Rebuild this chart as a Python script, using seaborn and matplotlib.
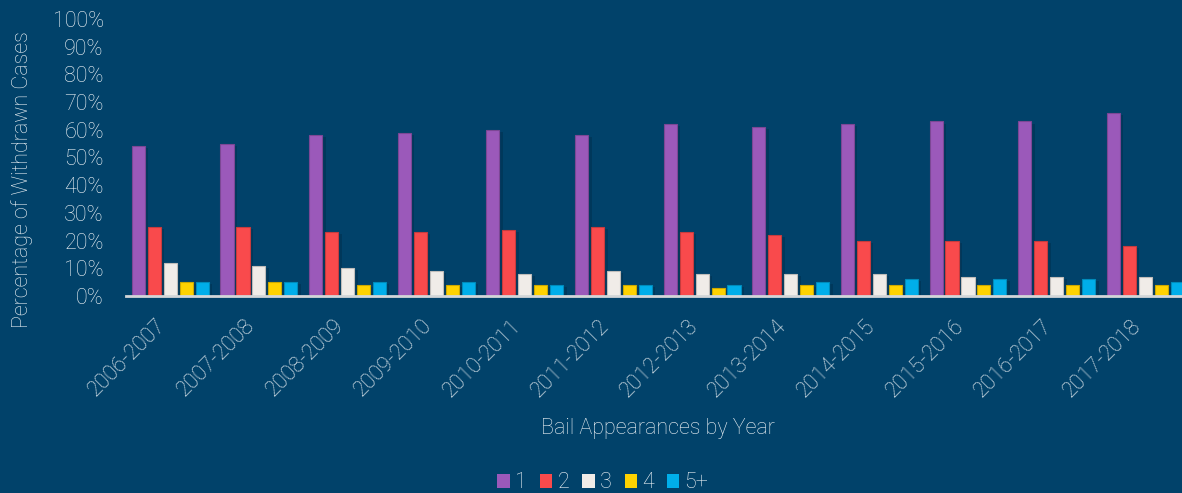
import matplotlib
matplotlib.use("Agg")
import matplotlib.pyplot as plt
from matplotlib import patheffects as pe
import seaborn as sns
import pandas as pd

years = ["2006-2007", "2007-2008", "2008-2009", "2009-2010", "2010-2011", "2011-2012",
         "2012-2013", "2013-2014", "2014-2015", "2015-2016", "2016-2017", "2017-2018"]
series_names = ["1", "2", "3", "4", "5+"]
s1 = [54, 55, 58, 59, 60, 58, 62, 61, 62, 63, 63, 66]
s2 = [25, 25, 23, 23, 24, 25, 23, 22, 20, 20, 20, 18]
s3 = [12, 11, 10, 9, 8, 9, 8, 8, 8, 7, 7, 7]
s4 = [5, 5, 4, 4, 4, 4, 3, 4, 4, 4, 4, 4]
s5 = [5, 5, 5, 5, 4, 4, 4, 5, 6, 6, 6, 5]
yticks = [0, 10, 20, 30, 40, 50, 60, 70, 80, 90, 100]

colors = ["#9B59BA", "#F94A4C", "#F0ECE8", "#FFD200", "#00AEEA"]
bg = "#01426A"
txt = "#F0F4F7"

rows = []
for name, vals in zip(series_names, [s1, s2, s3, s4, s5]):
    for y, v in zip(years, vals):
        rows.append({"Year": y, "Appearances": name, "Value": v})
df = pd.DataFrame(rows)

plt.rcParams["font.family"] = ["Roboto", "DejaVu Sans"]
plt.rcParams["font.weight"] = "light"
plt.rcParams["axes.labelweight"] = "light"

fig = plt.figure(figsize=(11.82, 4.93), dpi=100, facecolor=bg)
ax = fig.add_axes([0.1066, 0.3996, 0.8998, 0.5619])
ax.set_facecolor(bg)

sns.barplot(data=df, x="Year", y="Value", hue="Appearances", hue_order=series_names,
            order=years, palette=colors, width=0.9, gap=0.18, saturation=1,
            errorbar=None, ax=ax, linewidth=0.8)

for p in ax.patches:
    fc = p.get_facecolor()
    dark = tuple(c * 0.8 for c in fc[:3]) + (1,)
    p.set_edgecolor(dark)
    p.set_path_effects([pe.SimplePatchShadow(offset=(2.5, -1.5), shadow_rgbFace="#00263F", alpha=0.35), pe.Normal()])

ax.set_xlim(-0.5, len(years) - 0.5)
ax.set_ylim(0, 100)
ax.set_yticks(yticks)
ax.set_yticklabels([f"{v}%" for v in yticks])
ax.tick_params(axis="y", length=0, pad=16, labelsize=15.5, labelcolor=txt)
ax.tick_params(axis="x", length=0, pad=14, labelsize=15.5, labelcolor=txt)
plt.setp(ax.get_xticklabels(), rotation=45, ha="right", rotation_mode="default")

for s in ["top", "right", "left"]:
    ax.spines[s].set_visible(False)
ax.spines["bottom"].set_color("#D3D6D8")
ax.spines["bottom"].set_linewidth(2)
ax.grid(False)

ax.set_ylabel("Percentage of Withdrawn Cases", fontsize=15.5, color=txt, fontweight="light")
ax.yaxis.set_label_coords(-0.087, 0.422)
ax.set_xlabel("Bail Appearances by Year", fontsize=15.5, color=txt, labelpad=12, fontweight="light")

handles, labels = ax.get_legend_handles_labels()
ax.get_legend().remove()
for h in handles:
    h.set_edgecolor("none")
    h.set_path_effects([])
leg = fig.legend(handles, labels, loc="center", bbox_to_anchor=(0.51, 0.0203), ncol=5,
                 frameon=False, fontsize=15.5, handlelength=0.58, handleheight=0.58,
                 handletextpad=0.24, columnspacing=0.6, borderaxespad=0)
for t in leg.get_texts():
    t.set_color(txt)
    t.set_fontweight("light")

fig.savefig("out.png", dpi=100, facecolor=bg)
